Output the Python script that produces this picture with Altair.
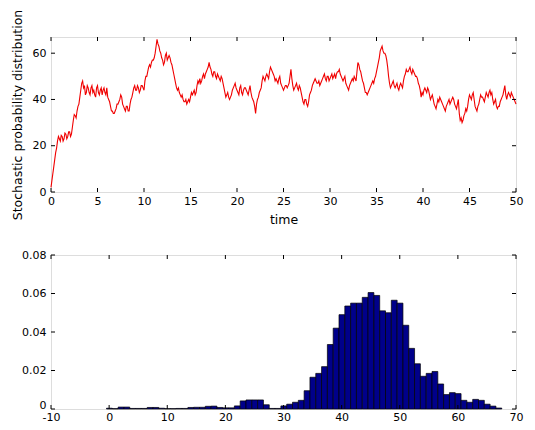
import altair as alt
import numpy as np
import pandas as pd

# ---- top panel: stochastic trajectory ----
# values read at t = 0, 0.2, 0.4, ... 50
traj_values = [
    2, 8, 14, 19, 24,      # 0
    22, 24, 23, 25, 24,    # 1
    26, 25, 31, 33, 35,    # 2
    38, 44, 48, 46, 43,    # 3
    45, 42, 46, 44, 41,    # 4
    46, 42, 45, 44, 43,    # 5
    45, 40, 37, 35, 34,    # 6
    36, 38, 40, 41, 37,    # 7
    35, 37, 35, 40, 43,    # 8
    46, 44, 45, 44, 46,    # 9
    44, 50, 52, 55, 56,    # 10
    57, 60, 66, 63, 60,    # 11
    57, 56, 60, 58, 58,    # 12
    55, 51, 47, 44, 43,    # 13
    41, 40, 39, 38, 40,    # 14
    41, 42, 44, 43, 48,    # 15
    49, 48, 51, 51, 53,    # 16
    56, 53, 50, 52, 49,    # 17
    50, 48, 49, 45, 41,    # 18
    43, 40, 42, 45, 47,    # 19
    44, 42, 46, 42, 45,    # 20
    44, 42, 46, 41, 39,    # 21
    34, 40, 43, 45, 50,    # 22
    48, 51, 49, 54, 52,    # 23
    50, 49, 47, 50, 46,    # 24
    44, 46, 45, 47, 53,    # 25
    46, 45, 47, 44, 45,    # 26
    41, 38, 40, 37, 42,    # 27
    44, 47, 49, 47, 48,    # 28
    47, 49, 51, 48, 50,    # 29
    49, 51, 50, 49, 52,    # 30
    53, 50, 48, 50, 46,    # 31
    44, 47, 49, 50, 48,    # 32
    56, 53, 50, 47, 43,    # 33
    42, 44, 46, 48, 49,    # 34
    52, 56, 61, 63, 60,    # 35
    59, 54, 47, 46, 48,    # 36
    45, 47, 44, 47, 45,    # 37
    50, 53, 52, 54, 51,    # 38
    52, 50, 49, 46, 41,    # 39
    42, 45, 43, 44, 40,    # 40
    42, 38, 36, 40, 41,    # 41
    39, 37, 35, 38, 40,    # 42
    39, 41, 38, 36, 40,    # 43
    31, 30, 33, 36, 37,    # 44
    42, 40, 43, 37, 35,    # 45
    38, 42, 41, 39, 43,    # 46
    41, 44, 43, 38, 40,    # 47
    36, 37, 40, 42, 46,    # 48
    40, 43, 41, 42, 40,    # 49
    38,                    # 50
]
# values read at t = 0.1, 0.3, 0.5, ... 49.9 (the fine jitter)
traj_mid = [
    5, 11, 17, 22, 23,             # 0
    24.5, 22, 25.5, 23, 26,        # 1
    24, 28, 33.5, 32, 37,          # 2
    41, 47, 45, 42, 46,            # 3
    43, 45, 43, 42, 45,            # 4
    43, 44, 42, 45, 42,            # 5
    41, 39, 35, 34, 35,            # 6
    38, 39, 42, 38, 36,            # 7
    37, 35, 38, 41, 45,            # 8
    44, 46, 43, 46, 45,            # 9
    48, 50, 54, 54, 57,            # 10
    58, 63, 64, 61, 58,            # 11
    55, 59, 57, 59, 56,            # 12
    53, 49, 45, 45, 42,            # 13
    42, 39, 40, 39, 39,            # 14
    43, 43, 42, 46, 47,            # 15
    47, 50, 49, 52, 54,            # 16
    54, 51, 52, 50, 51,            # 17
    49, 50, 47, 43, 42,            # 18
    41, 41, 44, 46, 45,            # 19
    43, 45, 43, 44, 45,            # 20
    43, 44, 43, 40, 37,            # 21
    38, 41, 44, 48, 49,            # 22
    50, 50, 52, 53, 51,            # 23
    48, 48, 49, 47, 45,            # 24
    45, 46, 46, 50, 49,            # 25
    44, 46, 45, 46, 43,            # 26
    39, 40, 38, 39, 43,            # 27
    46, 48, 48, 47, 46,            # 28
    48, 50, 49, 50, 48,            # 29
    50, 49, 51, 51, 52,            # 30
    51, 49, 49, 47, 45,            # 31
    46, 48, 48, 49, 52,            # 32
    55, 52, 48, 45, 43,            # 33
    43, 45, 47, 47, 50,            # 34
    54, 58, 62, 61, 60,            # 35
    57, 50, 45, 47, 46,            # 36
    46, 45, 46, 46, 48,            # 37
    51, 52, 53, 52, 53,            # 38
    51, 50, 47, 44, 43,            # 39
    44, 44, 45, 42, 41,            # 40
    40, 37, 38, 39, 40,            # 41
    38, 36, 37, 39, 38,            # 42
    40, 40, 37, 38, 34,            # 43
    32, 31, 34, 35, 40,            # 44
    41, 42, 40, 36, 37,            # 45
    40, 41, 40, 41, 42,            # 46
    43, 42, 40, 39, 37,            # 47
    37, 39, 41, 44, 42,            # 48
    42, 42, 43, 41, 39,            # 49
]
coarse_step = 0.2
top_xticks = [0, 5, 10, 15, 20, 25, 30, 35, 40, 45, 50]
top_yticks = [0, 20, 40, 60]

# ---- bottom panel: histogram ----
bin_centers = list(range(0, 68))
bin_heights = [
    0.0004, 0.0002, 0.0010, 0.0010, 0.0003, 0.0003, 0.0003, 0.0008, 0.0008, 0.0004,  # 0-9
    0.0002, 0.0002, 0.0003, 0.0003, 0.0008, 0.0009, 0.0009, 0.0014, 0.0015, 0.0008,  # 10-19
    0.0006, 0.0006, 0.0016, 0.0042, 0.0047, 0.0047, 0.0047, 0.0022, 0.0003, 0.0003,  # 20-29
    0.0016, 0.0025, 0.0035, 0.0045, 0.0095, 0.0165, 0.0185, 0.0220, 0.0335, 0.0420,  # 30-39
    0.0490, 0.0535, 0.0550, 0.0550, 0.0580, 0.0605, 0.0590, 0.0510, 0.0500, 0.0565,  # 40-49
    0.0550, 0.0435, 0.0315, 0.0235, 0.0170, 0.0185, 0.0195, 0.0130, 0.0075, 0.0085,  # 50-59
    0.0080, 0.0045, 0.0035, 0.0050, 0.0045, 0.0025, 0.0015, 0.0005,                  # 60-67
]
bin_width = 1.0
bin_offset = 0.05
bot_xticks = [-10, 0, 10, 20, 30, 40, 50, 60, 70]
bot_yticks = [0, 0.02, 0.04, 0.06, 0.08]

W = 465
H1 = 155
H2 = 154
TL = 4  # inward tick length
FONT = "DejaVu Sans"

n = len(traj_values)
t_coarse = np.arange(n) * coarse_step
t_mid = np.arange(len(traj_mid)) * coarse_step + coarse_step / 2
traj = pd.DataFrame({"t": np.concatenate([t_coarse, t_mid]),
                     "v": list(traj_values) + list(traj_mid)}).sort_values("t")

hist = pd.DataFrame({"c": bin_centers, "h": bin_heights})
hist["x0"] = hist["c"] - bin_width / 2 + bin_offset
hist["x1"] = hist["c"] + bin_width / 2 + bin_offset


def tick_layers(xvals, yvals, xscale, yscale, h):
    dx = pd.DataFrame({"v": xvals})
    dy = pd.DataFrame({"v": yvals})
    xb = alt.Chart(dx).mark_rule(color="black", strokeWidth=1).encode(
        x=alt.X("v:Q", scale=xscale), y=alt.value(h - TL), y2=alt.value(h))
    xt = alt.Chart(dx).mark_rule(color="black", strokeWidth=1).encode(
        x=alt.X("v:Q", scale=xscale), y=alt.value(0), y2=alt.value(TL))
    yl = alt.Chart(dy).mark_rule(color="black", strokeWidth=1).encode(
        y=alt.Y("v:Q", scale=yscale), x=alt.value(0), x2=alt.value(TL))
    yr = alt.Chart(dy).mark_rule(color="black", strokeWidth=1).encode(
        y=alt.Y("v:Q", scale=yscale), x=alt.value(W - TL), x2=alt.value(W))
    return [xb, xt, yl, yr]


ax_common = dict(domain=False, ticks=False, tickSize=0, grid=False, labelFont=FONT, labelFontSize=11,
                 labelColor="black", labelFlush=False, labelOverlap=False, tickCount=20,
                 titleFont=FONT, titleFontWeight="normal", titleColor="black", titleFontSize=12.5)

# top
xs1 = alt.Scale(domain=[0, 50], nice=False, zero=False)
ys1 = alt.Scale(domain=[0, 67], nice=False)
line = alt.Chart(traj).mark_line(color="#f00000", strokeWidth=1.1).encode(
    x=alt.X("t:Q", scale=xs1, axis=alt.Axis(values=top_xticks, labelExpr="'' + datum.value",
                                            title="time", labelPadding=3,
                                            titlePadding=7, **ax_common)),
    y=alt.Y("v:Q", scale=ys1, axis=alt.Axis(values=top_yticks, labelExpr="'' + datum.value",
                                            title="Stochastic probability distribution",
                                            labelPadding=5, titlePadding=8,
                                            **ax_common)),
    order="t:Q",
)
top = alt.layer(line, *tick_layers(top_xticks, top_yticks, xs1, ys1, H1)).properties(width=W, height=H1)

# bottom
xs2 = alt.Scale(domain=[-10, 70], nice=False, zero=False)
ys2 = alt.Scale(domain=[0, 0.08], nice=False)
bars = alt.Chart(hist).mark_rect(color="#00008a", stroke="black", strokeWidth=0.7).encode(
    x=alt.X("x0:Q", scale=xs2, axis=alt.Axis(values=bot_xticks, labelExpr="'' + datum.value",
                                             title=None, labelPadding=2, **ax_common)),
    x2="x1:Q",
    y=alt.Y("h:Q", scale=ys2, axis=alt.Axis(values=bot_yticks,
                                            labelExpr="datum.value == 0 ? '0' : format(datum.value, '.2f')",
                                            labelOffset={"condition": {"test": "datum.value == 0", "value": -4},
                                                         "value": 0},
                                            title=None, labelPadding=5, **ax_common)),
    y2=alt.datum(0),
)
bottom = alt.layer(bars, *tick_layers(bot_xticks, bot_yticks, xs2, ys2, H2)).properties(width=W, height=H2)

chart = alt.vconcat(top, bottom, spacing=63, bounds="flush").properties(
    padding={"left": 10, "top": 8, "right": 5, "bottom": 5}
).configure_view(stroke="black", strokeWidth=1).configure(background="white")

chart.save("out.html", embed_options={"renderer": "svg", "actions": False})
